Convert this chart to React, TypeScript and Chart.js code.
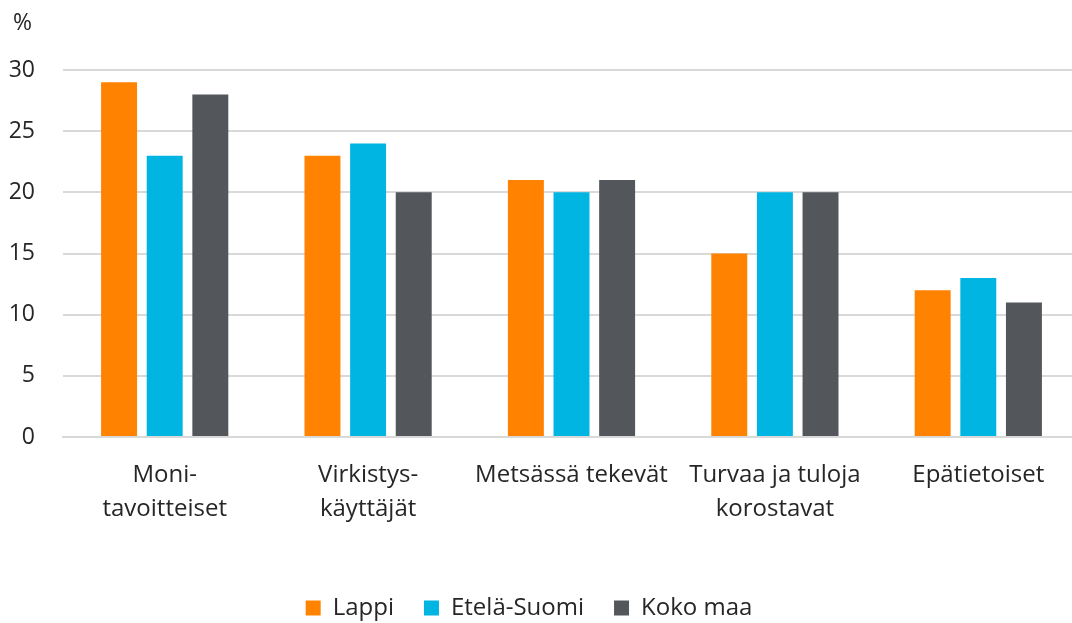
import React, { useEffect, useRef } from "react";
import { Chart, registerables } from "chart.js";

Chart.register(...registerables);

const categories: (string | string[])[] = [
  ["Moni-", "tavoitteiset"],
  ["Virkistys-", "käyttäjät"],
  "Metsässä tekevät",
  ["Turvaa ja tuloja", "korostavat"],
  "Epätietoiset",
];
const lappi = [29, 23, 21, 15, 12];
const etelaSuomi = [23, 24, 20, 20, 13];
const kokoMaa = [28, 20, 21, 20, 11];
const seriesNames = ["Lappi", "Etelä-Suomi", "Koko maa"];
const colors = ["#FF8200", "#00B5E2", "#53565A"];
const yUnit = "%";

const FONT = "'Open Sans', 'Noto Sans', sans-serif";
const TEXT = "#262626";
const LEGEND_PAD = 30;
// the plot area in the original runs past the picture's right edge,
// so the canvas is a little wider than the visible frame
const CANVAS_W = 1080;

export default function App() {
  const ref = useRef<HTMLCanvasElement>(null);
  useEffect(() => {
    if (!ref.current) return;
    const unitPlugin = {
      id: "unitLabel",
      afterLayout(chart: any) {
        const lg = chart.legend;
        if (lg) {
          const rowCenter = lg.top + LEGEND_PAD + 12;
          const dy = 608 - rowCenter;
          lg.top += dy;
          lg.bottom += dy;
          const dx = 529 - (lg.left + lg.right) / 2;
          lg.left += dx;
          lg.right += dx;
        }
      },
      afterDraw(chart: any) {
        const ctx = chart.ctx;
        ctx.save();
        ctx.font = `23px ${FONT}`;
        ctx.fillStyle = TEXT;
        ctx.textAlign = "left";
        ctx.textBaseline = "middle";
        ctx.fillText(yUnit, 13, 23);
        ctx.restore();
      },
    };
    const chart = new Chart(ref.current, {
      type: "bar",
      data: {
        labels: categories,
        datasets: [lappi, etelaSuomi, kokoMaa].map((d, i) => ({
          label: seriesNames[i],
          data: d,
          backgroundColor: colors[i],
          borderWidth: 0,
          categoryPercentage: 0.673,
          barPercentage: 0.788,
        })),
      },
      options: {
        responsive: false,
        animation: false,
        maintainAspectRatio: false,
        layout: { padding: { top: 70, right: 0, left: 9, bottom: 0 } },
        plugins: {
          legend: {
            position: "bottom",
            labels: {
              font: { family: FONT, size: 24 },
              color: TEXT,
              boxWidth: 15,
              boxHeight: 15,
              padding: LEGEND_PAD,
            },
          },
          tooltip: { enabled: false },
        },
        scales: {
          x: {
            grid: { display: false },
            border: { display: true, color: "#d9d9d9", width: 2 },
            ticks: {
              font: { family: FONT, size: 24, lineHeight: 1.42 },
              color: TEXT,
              maxRotation: 0,
              autoSkip: false,
              padding: 13,
            },
            afterFit(scale: any) {
              scale.height = 122;
            },
          },
          y: {
            min: 0,
            max: 30,
            ticks: {
              stepSize: 5,
              font: { family: FONT, size: 23 },
              color: TEXT,
              padding: 28,
            },
            grid: { color: "#d9d9d9", lineWidth: 2, drawTicks: false },
            border: { display: false },
            afterFit(scale: any) {
              scale.width = 54;
            },
          },
        },
      },
      plugins: [unitPlugin],
    });
    return () => chart.destroy();
  }, []);
  return (
    <div
      style={{
        position: "fixed",
        left: 0,
        top: 0,
        width: 1072,
        height: 623,
        overflow: "hidden",
        background: "#fff",
      }}
    >
      <canvas
        ref={ref}
        width={CANVAS_W}
        height={623}
        style={{ width: CANVAS_W, height: 623, display: "block" }}
      />
    </div>
  );
}
